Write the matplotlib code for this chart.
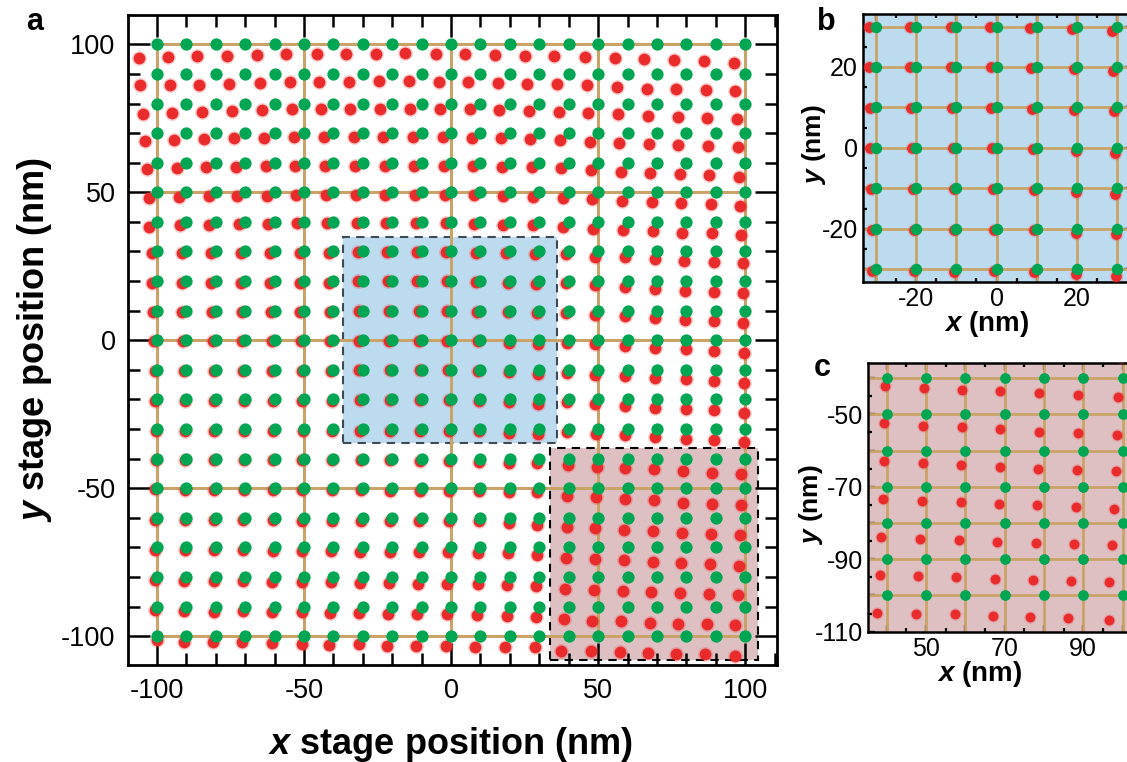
import numpy as np
import matplotlib.pyplot as plt
from matplotlib.patches import Rectangle
from matplotlib.ticker import MultipleLocator

plt.rcParams['font.family'] = ['Liberation Sans', 'DejaVu Sans']
plt.rcParams['mathtext.fontset'] = 'custom'
plt.rcParams['mathtext.it'] = 'Liberation Sans:bold:italic'
plt.rcParams['mathtext.rm'] = 'Liberation Sans:bold'
plt.rcParams['axes.unicode_minus'] = False

# commanded stage positions (nm), rows run top to bottom
grid_x = [-100, -90, -80, -70, -60, -50, -40, -30, -20, -10, 0,
          10, 20, 30, 40, 50, 60, 70, 80, 90, 100]
grid_y = [100, 90, 80, 70, 60, 50, 40, 30, 20, 10, 0,
          -10, -20, -30, -40, -50, -60, -70, -80, -90, -100]

# measured minus commanded position (nm), one row per grid_y value
red_dx = [
    [-6.2, -6.3, -6.3, -6.2, -6.0, -6.0, -5.6, -5.6, -5.6, -5.5, -5.0, -5.1, -4.9, -4.7, -4.9, -4.5, -4.3, -4.3, -4.1, -3.9, -3.9],
    [-5.7, -5.5, -5.5, -5.3, -5.1, -4.9, -4.8, -4.7, -4.6, -4.4, -4.2, -4.3, -4.1, -4.2, -4.0, -3.9, -3.7, -3.5, -3.5, -3.3, -3.4],
    [-4.8, -4.9, -4.7, -4.5, -4.3, -4.1, -4.1, -4.2, -4.0, -3.8, -3.6, -3.5, -3.6, -3.6, -3.4, -3.3, -3.1, -3.1, -3.0, -3.1, -2.8],
    [-4.0, -4.1, -3.9, -3.7, -3.5, -3.5, -3.3, -3.1, -3.1, -2.9, -2.7, -3.0, -3.0, -3.0, -3.0, -2.8, -2.8, -2.6, -2.7, -2.5, -2.3],
    [-3.2, -3.2, -3.2, -3.0, -2.8, -3.0, -2.7, -2.5, -2.6, -2.5, -2.3, -2.4, -2.7, -2.6, -2.7, -2.5, -2.3, -2.3, -2.2, -2.3, -2.1],
    [-2.5, -2.4, -2.4, -2.6, -2.6, -2.6, -2.4, -2.3, -2.3, -2.1, -1.9, -2.3, -2.5, -2.3, -2.1, -2.1, -1.9, -1.8, -1.9, -1.7, -1.7],
    [-2.5, -2.2, -2.1, -2.2, -2.2, -2.2, -2.2, -2.0, -2.0, -1.8, -1.6, -2.1, -2.3, -2.1, -1.9, -1.9, -1.7, -1.5, -1.6, -1.4, -1.3],
    [-1.7, -1.6, -1.5, -1.5, -1.5, -1.4, -1.4, -1.6, -1.6, -1.4, -1.6, -1.6, -1.2, -1.4, -1.0, -1.1, -0.9, -0.8, -0.7, -0.7, -0.8],
    [-1.6, -1.5, -1.5, -1.4, -1.4, -1.4, -1.4, -1.6, -1.4, -1.4, -1.4, -1.4, -0.8, -1.0, -1.0, -1.1, -0.7, -0.6, -0.6, -0.7, -0.7],
    [-1.3, -1.3, -1.2, -1.2, -1.2, -1.2, -1.2, -1.4, -1.2, -1.0, -1.4, -1.2, -0.7, -0.8, -0.8, -0.9, -0.7, -0.6, -0.6, -0.7, -0.7],
    [-1.0, -1.0, -1.0, -1.0, -1.0, -1.0, -1.0, -1.4, -1.0, -0.8, -1.2, -1.0, -0.4, -0.6, -0.6, -0.9, -0.7, -0.6, -0.3, -0.5, -0.5],
    [-0.7, -0.7, -0.7, -0.7, -0.7, -0.7, -0.7, -1.2, -0.8, -0.6, -1.0, -0.8, -0.4, -0.6, -0.6, -0.9, -0.7, -0.6, -0.3, -0.5, -0.5],
    [-0.5, -0.5, -0.5, -0.5, -0.5, -0.5, -0.5, -1.0, -0.6, -0.6, -0.7, -0.6, -0.2, -0.4, -0.6, -0.9, -0.7, -0.6, -0.3, -0.5, -0.5],
    [-0.4, -0.4, -0.4, -0.4, -0.4, -0.4, -0.4, -1.0, -0.6, -0.6, -0.7, -0.6, -0.3, -0.4, -0.6, -0.7, -0.7, -0.6, -0.3, -0.5, -0.5],
    [-0.4, -0.4, -0.4, -0.4, -0.5, -0.5, -0.5, -0.6, -0.6, -0.7, -0.8, -0.6, -0.3, -0.8, -0.4, -0.5, -0.8, -1.1, -1.3, -1.3, -1.3],
    [-0.5, -0.5, -0.5, -0.5, -0.5, -0.5, -0.6, -0.6, -0.7, -0.7, -0.8, -0.6, -0.4, -0.8, -0.6, -0.7, -0.8, -1.1, -1.3, -1.3, -1.4],
    [-0.5, -0.5, -0.5, -0.6, -0.6, -0.6, -0.6, -0.7, -0.7, -0.8, -0.8, -0.6, -0.3, -0.8, -0.7, -0.9, -1.1, -1.3, -1.4, -1.7, -1.7],
    [-0.5, -0.5, -0.6, -0.6, -0.6, -0.7, -0.7, -0.8, -0.9, -1.0, -1.1, -0.8, -0.6, -0.8, -1.0, -1.1, -1.2, -1.4, -1.8, -1.9, -2.1],
    [-0.5, -0.6, -0.6, -0.7, -0.7, -0.8, -0.9, -1.0, -1.1, -1.2, -1.3, -0.9, -0.9, -1.0, -1.4, -1.5, -1.5, -1.9, -2.1, -2.3, -2.6],
    [-0.5, -0.7, -0.7, -0.7, -0.7, -0.7, -1.0, -1.2, -1.4, -1.5, -1.5, -1.1, -1.1, -1.1, -1.7, -2.1, -2.3, -2.4, -2.9, -3.1, -3.4],
    [0.0, -0.7, -0.9, -1.1, -0.9, -0.7, -1.4, -1.4, -1.8, -1.8, -1.8, -1.7, -1.5, -1.6, -2.5, -2.5, -2.7, -3.0, -3.6, -3.8, -3.4],
]
red_dy = [
    [-4.7, -4.2, -3.9, -3.8, -3.6, -3.4, -3.4, -3.2, -3.2, -3.1, -3.2, -3.4, -3.5, -3.8, -3.9, -4.4, -4.7, -5.1, -5.4, -5.7, -6.3],
    [-3.8, -3.8, -3.8, -3.5, -3.0, -2.7, -2.7, -2.7, -2.5, -2.5, -2.7, -2.9, -3.0, -3.3, -3.5, -3.8, -4.4, -5.0, -5.2, -5.5, -5.9],
    [-3.4, -3.2, -2.8, -2.6, -2.3, -2.0, -2.0, -2.0, -2.0, -2.0, -2.0, -2.0, -2.3, -2.5, -2.8, -3.2, -3.7, -4.3, -4.5, -4.8, -5.3],
    [-2.7, -2.4, -2.1, -1.8, -1.5, -1.2, -1.2, -1.2, -1.2, -1.2, -1.3, -1.5, -1.8, -2.0, -2.4, -2.9, -3.4, -3.7, -4.0, -4.3, -4.8],
    [-2.0, -1.7, -1.5, -1.4, -1.1, -1.0, -1.0, -1.0, -1.0, -1.0, -1.0, -1.0, -1.4, -1.6, -1.9, -2.5, -3.0, -3.4, -3.8, -4.2, -4.8],
    [-1.8, -1.5, -1.2, -1.1, -1.1, -0.9, -0.9, -0.9, -0.9, -0.9, -0.9, -0.9, -1.1, -1.5, -1.8, -2.3, -2.8, -3.4, -3.7, -4.1, -4.5],
    [-1.7, -1.1, -0.9, -0.8, -0.6, -0.5, -0.5, -0.5, -0.5, -0.5, -0.5, -0.8, -0.9, -1.1, -1.7, -2.3, -2.6, -3.0, -3.6, -3.9, -4.5],
    [-0.6, -0.6, -0.5, -0.5, -0.5, -0.5, -0.5, -0.1, -0.1, -0.1, -0.1, -0.4, -0.6, -1.0, -0.9, -1.7, -1.7, -2.6, -3.2, -3.7, -4.0],
    [-0.5, -0.5, -0.5, -0.5, -0.5, -0.5, -0.5, -0.1, -0.1, -0.1, -0.1, -0.3, -0.6, -1.1, -0.8, -1.4, -1.9, -2.8, -3.4, -3.6, -3.9],
    [-0.5, -0.5, -0.5, -0.5, -0.5, -0.5, -0.5, -0.1, -0.1, -0.1, -0.1, -0.3, -0.6, -0.9, -0.9, -1.5, -1.8, -2.6, -3.2, -3.4, -4.1],
    [-0.4, -0.4, -0.4, -0.4, -0.4, -0.4, -0.4, -0.1, -0.1, -0.1, -0.1, -0.3, -0.8, -1.2, -1.0, -1.4, -1.9, -2.7, -3.0, -3.5, -4.2],
    [-0.5, -0.5, -0.5, -0.5, -0.5, -0.5, -0.5, -0.1, -0.1, -0.1, -0.1, -0.3, -0.8, -1.3, -0.9, -1.7, -1.9, -2.6, -3.2, -3.6, -4.3],
    [-0.5, -0.5, -0.5, -0.5, -0.5, -0.5, -0.5, -0.3, -0.3, -0.3, -0.3, -0.4, -1.0, -1.4, -1.0, -1.6, -2.1, -2.8, -3.3, -3.6, -4.4],
    [-0.5, -0.5, -0.5, -0.5, -0.5, -0.5, -0.5, -0.5, -0.5, -0.6, -0.5, -0.6, -1.2, -1.6, -0.9, -1.5, -2.0, -2.8, -3.2, -3.7, -4.3],
    [-0.4, -0.4, -0.4, -0.4, -0.5, -0.5, -0.5, -0.6, -0.6, -0.7, -0.7, -1.0, -1.4, -1.6, -2.1, -2.8, -3.2, -3.6, -4.2, -4.7, -5.1],
    [-0.4, -0.5, -0.5, -0.5, -0.6, -0.6, -0.7, -0.7, -0.8, -0.9, -1.0, -0.9, -1.1, -1.4, -2.5, -3.1, -3.6, -4.1, -4.8, -5.2, -5.7],
    [-0.6, -0.7, -0.7, -0.8, -0.8, -0.9, -0.9, -1.0, -1.1, -1.2, -1.0, -1.2, -1.8, -2.4, -3.0, -3.5, -4.0, -4.4, -5.1, -5.3, -5.7],
    [-0.7, -0.9, -1.0, -1.0, -1.1, -1.2, -1.3, -1.4, -1.5, -1.6, -1.5, -1.8, -2.0, -2.6, -3.5, -3.9, -4.3, -4.8, -5.1, -5.5, -6.1],
    [-1.0, -1.3, -1.3, -1.3, -1.5, -1.5, -1.7, -1.9, -2.1, -2.2, -2.2, -2.4, -2.6, -2.9, -3.9, -4.4, -4.8, -5.1, -5.4, -5.7, -6.2],
    [-1.1, -1.4, -1.7, -1.4, -1.7, -1.7, -2.3, -2.3, -2.5, -2.5, -2.6, -2.9, -3.0, -3.4, -4.3, -4.7, -5.0, -5.4, -5.7, -6.0, -6.3],
    [-1.2, -1.8, -2.0, -2.0, -2.4, -2.7, -2.9, -2.7, -3.2, -3.2, -3.3, -3.5, -3.5, -3.7, -4.9, -5.0, -5.2, -5.8, -6.0, -6.1, -6.7],
]

GREEN = '#00a651'
RED = '#ea2b2b'
TAN = '#c9a368'
BLUE = '#bddbef'
PINK = '#dec0c3'

gx, gy = np.meshgrid(grid_x, grid_y)
rx = gx + np.array(red_dx)
ry = gy + np.array(red_dy)


def draw_dots(ax, s_green, s_red):
    # soft halo under the measured points, then the points, then the targets
    ax.scatter(rx.ravel(), ry.ravel(), s=s_red * 1.6, color=RED, alpha=0.22, lw=0, zorder=3)
    ax.scatter(rx.ravel(), ry.ravel(), s=s_red, color=RED, lw=0, zorder=3)
    ax.scatter(gx.ravel(), gy.ravel(), s=s_green, color=GREEN, lw=0, zorder=4)


def style_axes(ax, lw, major_len, minor_len, size):
    for sp in ax.spines.values():
        sp.set_linewidth(lw)
    ax.tick_params(which='both', direction='in', top=True, right=True,
                   width=lw * 0.9, labelsize=size)
    ax.tick_params(which='major', length=major_len, pad=6)
    ax.tick_params(which='minor', length=minor_len)


fig = plt.figure(figsize=(11.27, 7.62), dpi=100)

# ---- a: full 200 nm scan ----
ax = fig.add_axes([128 / 1127, 97 / 762, 649 / 1127, 650 / 762])
ax.set_xlim(-109.8, 110.8)
ax.set_ylim(-109.7, 109.9)
ax.add_patch(Rectangle((-36.7, -34.8), 72.7, 69.8, fc=BLUE, ec='#3b4a55',
                       ls=(0, (4, 3)), lw=1.5, zorder=1))
ax.add_patch(Rectangle((33.8, -108.0), 70.6, 71.5, fc=PINK, ec='black',
                       ls=(0, (4, 3)), lw=1.5, zorder=1))
major_a = [-100, -50, 0, 50, 100]
for v in major_a:
    ax.plot([v, v], [-100, 100], color=TAN, lw=2.2, zorder=2)
    ax.plot([-100, 100], [v, v], color=TAN, lw=2.2, zorder=2)
draw_dots(ax, 78, 72)
ax.set_xticks(major_a)
ax.set_yticks(major_a)
ax.xaxis.set_minor_locator(MultipleLocator(10))
ax.yaxis.set_minor_locator(MultipleLocator(10))
style_axes(ax, 2.0, 16, 8.5, 19.5)
ax.tick_params(which='major', pad=9)

fig.text(451 / 1127, 1 - 744 / 762, r'$x$ stage position (nm)', fontsize=26,
         fontweight='bold', ha='center', va='center')
fig.text(35 / 1127, 1 - 340 / 762, r'$y$ stage position (nm)', fontsize=26,
         fontweight='bold', ha='center', va='center', rotation=90)

# ---- b: centre region ----
axb = fig.add_axes([863.3 / 1127, 1 - 281.7 / 762, 267.4 / 1127, 267.7 / 762])
axb.set_facecolor(BLUE)
axb.set_xlim(-33.1, 33.3)
axb.set_ylim(-33.1, 33.1)
for v in grid_x:
    axb.axvline(v, color=TAN, lw=2, zorder=2)
    axb.axhline(v, color=TAN, lw=2, zorder=2)
draw_dots(axb, 68, 60)
ticks_b = [-30, -20, -10, 0, 10, 20, 30]
labels_b = ['', '-20', '', '0', '', '20', '']
axb.set_xticks(ticks_b, labels_b)
axb.set_yticks(ticks_b, labels_b)
axb.xaxis.set_minor_locator(MultipleLocator(5))
axb.yaxis.set_minor_locator(MultipleLocator(5))
style_axes(axb, 1.8, 5, 3, 18)
axb.tick_params(which='major', pad=4)

fig.text(987 / 1127, 1 - 324 / 762, r'$x$ (nm)', fontsize=20,
         fontweight='bold', ha='center', va='center')
fig.text(814 / 1127, 1 - 145 / 762, r'$y$ (nm)', fontsize=19,
         fontweight='bold', ha='center', va='center', rotation=90)

# ---- c: lower right corner ----
axc = fig.add_axes([868.3 / 1127, 1 - 631.7 / 762, 272 / 1127, 268.4 / 762])
axc.set_facecolor(PINK)
axc.set_xlim(35.3, 104.5)
axc.set_ylim(-110, -35.9)
for v in grid_x:
    axc.axvline(v, color=TAN, lw=2, zorder=2)
for v in grid_y:
    axc.axhline(v, color=TAN, lw=2, zorder=2)
draw_dots(axc, 60, 50)
axc.set_xticks([40, 50, 60, 70, 80, 90, 100], ['', '50', '', '70', '', '90', ''])
axc.set_yticks([-110, -100, -90, -80, -70, -60, -50, -40],
               ['-110', '', '-90', '', '-70', '', '-50', ''])
axc.xaxis.set_minor_locator(MultipleLocator(5))
axc.yaxis.set_minor_locator(MultipleLocator(5))
style_axes(axc, 1.8, 5, 3, 18)
axc.tick_params(which='major', pad=4)

fig.text(980 / 1127, 1 - 674 / 762, r'$x$ (nm)', fontsize=20,
         fontweight='bold', ha='center', va='center')
fig.text(811 / 1127, 1 - 505 / 762, r'$y$ (nm)', fontsize=19,
         fontweight='bold', ha='center', va='center', rotation=90)

# panel letters
fig.text(35 / 1127, 1 - 22 / 762, 'a', fontsize=22, fontweight='bold', ha='center', va='center')
fig.text(826 / 1127, 1 - 22 / 762, 'b', fontsize=22, fontweight='bold', ha='center', va='center')
fig.text(822 / 1127, 1 - 368 / 762, 'c', fontsize=22, fontweight='bold', ha='center', va='center')

fig.savefig('out.png', dpi=100)
